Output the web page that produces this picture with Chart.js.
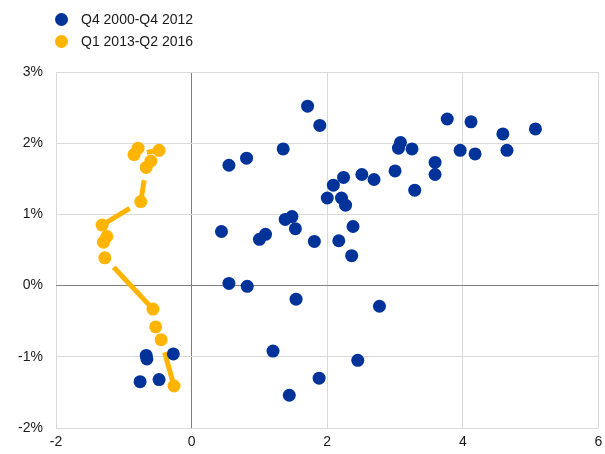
<!DOCTYPE html>
<html>
<head>
<meta charset="utf-8">
<script src="https://cdn.jsdelivr.net/npm/chart.js@4.4.1/dist/chart.umd.min.js"></script>
<style>
    html, body { margin: 0; padding: 0; background: #ffffff; }
    #wrap { position: relative; width: 605px; height: 454px; }
    #legend { position: absolute; left: 55px; top: 8px; font-family: "Liberation Sans", Arial, sans-serif; font-size: 14px; color: #1a1a1a; }
    .item { display: flex; align-items: center; height: 22px; }
    .dot { width: 13px; height: 13px; border-radius: 50%; margin-right: 13px; }
</style>
</head>
<body>
<div id="wrap">
    <div id="legend"></div>
    <canvas id="chart" width="605" height="454"></canvas>
</div>
<script>
// Series labels
const seriesNames = ['Q4 2000-Q4 2012', 'Q1 2013-Q2 2016'];
const seriesColors = ['#003399', '#ffb400'];

// Q4 2000-Q4 2012 (x, y in %)
const earlyX = [1.71, 1.89, 1.35, 0.81, 0.55, 2.51, 2.69, 2.24, 2.09, 2.00, 2.21, 2.27,
    1.38, 1.48, 1.53, 0.44, 1.00, 1.09, 1.81, 2.17, 2.38, 2.36, 0.55, 0.82,
    1.54, 2.77, 1.20, 2.45, 1.88, 1.44,
    3.77, 4.12, 4.59, 5.07, 3.08, 3.05, 3.25, 3.96, 4.18, 4.65, 3.59, 3.59, 3.00, 3.29,
    -0.67, -0.66, -0.27, -0.76, -0.48];
const earlyY = [2.52, 2.25, 1.92, 1.79, 1.69, 1.56, 1.49, 1.52, 1.41, 1.23, 1.23, 1.13,
    0.93, 0.97, 0.80, 0.76, 0.65, 0.72, 0.62, 0.63, 0.83, 0.42, 0.03, -0.01,
    -0.19, -0.29, -0.92, -1.05, -1.30, -1.54,
    2.34, 2.30, 2.13, 2.20, 2.01, 1.93, 1.92, 1.90, 1.85, 1.90, 1.73, 1.56, 1.61, 1.34,
    -0.98, -1.03, -0.96, -1.35, -1.32];

// Q1 2013-Q2 2016, in time order
const lateX = [-0.79, -0.85, -0.48, -0.60, -0.67, -0.75, -1.32, -1.25, -1.30, -1.28, -0.57, -0.53, -0.45, -0.26];
const lateY = [1.93, 1.84, 1.90, 1.75, 1.66, 1.18, 0.85, 0.69, 0.61, 0.39, -0.33, -0.58, -0.76, -1.41];

// Axis ticks
const xTicks = [-2, 0, 2, 4, 6];
const yTicks = [-2, -1, 0, 1, 2, 3];

const toPoints = (xs, ys) => xs.map((x, i) => ({x: x, y: ys[i]}));

// line pieces between the later quarters, cut short at the start like the arrows
const arrowLines = {
    id: 'arrowLines',
    beforeDatasetsDraw(chart) {
        const pts = chart.getDatasetMeta(1).data;
        const ctx = chart.ctx;
        ctx.save();
        ctx.strokeStyle = seriesColors[1];
        ctx.lineWidth = 5;
        for (let i = 0; i < pts.length - 1; i++) {
            const a = pts[i], b = pts[i + 1];
            const dx = b.x - a.x, dy = b.y - a.y;
            const len = Math.hypot(dx, dy);
            const gap = 13;
            if (len <= gap) continue;
            ctx.beginPath();
            ctx.moveTo(a.x + dx / len * gap, a.y + dy / len * gap);
            ctx.lineTo(b.x, b.y);
            ctx.stroke();
        }
        ctx.restore();
    }
};

const gridColor = ctx => (ctx.tick && ctx.tick.value === 0) ? '#7f7f7f' : '#d9d9d9';
const tickFont = {family: '"Liberation Sans", Arial, sans-serif', size: 14};

// legend
const legendEl = document.getElementById('legend');
seriesNames.forEach((name, i) => {
    const row = document.createElement('div');
    row.className = 'item';
    const dot = document.createElement('span');
    dot.className = 'dot';
    dot.style.background = seriesColors[i];
    const txt = document.createElement('span');
    txt.textContent = name;
    row.appendChild(dot);
    row.appendChild(txt);
    legendEl.appendChild(row);
});

new Chart(document.getElementById('chart'), {
    type: 'scatter',
    data: {
        datasets: [{
            label: seriesNames[0],
            data: toPoints(earlyX, earlyY),
            backgroundColor: seriesColors[0],
            borderWidth: 0,
            pointRadius: 6.5,
            order: 2
        }, {
            label: seriesNames[1],
            data: toPoints(lateX, lateY),
            backgroundColor: seriesColors[1],
            borderWidth: 0,
            pointRadius: 6.5,
            showLine: false,
            order: 1
        }]
    },
    options: {
        responsive: false,
        animation: false,
        layout: {
            padding: {top: 72, right: 4, left: 0, bottom: 0}
        },
        plugins: {
            legend: {display: false},
            tooltip: {enabled: false}
        },
        scales: {
            x: {
                type: 'linear',
                min: -2,
                max: 6,
                afterBuildTicks: scale => { scale.ticks = xTicks.map(v => ({value: v})); },
                afterFit: scale => {
                    scale.height = 26;
                    scale.paddingLeft = 0;
                    scale.paddingRight = 0;
                },
                grid: {color: gridColor, drawTicks: false, lineWidth: 1},
                border: {display: false},
                ticks: {color: '#1a1a1a', font: tickFont, padding: 6}
            },
            y: {
                type: 'linear',
                min: -2,
                max: 3,
                afterBuildTicks: scale => { scale.ticks = yTicks.map(v => ({value: v})); },
                afterFit: scale => { scale.width = 56; },
                grid: {color: gridColor, drawTicks: false, lineWidth: 1},
                border: {display: false},
                ticks: {
                    color: '#1a1a1a',
                    font: tickFont,
                    padding: 13,
                    callback: v => v + '%'
                }
            }
        }
    },
    plugins: [arrowLines]
});
</script>
</body>
</html>
